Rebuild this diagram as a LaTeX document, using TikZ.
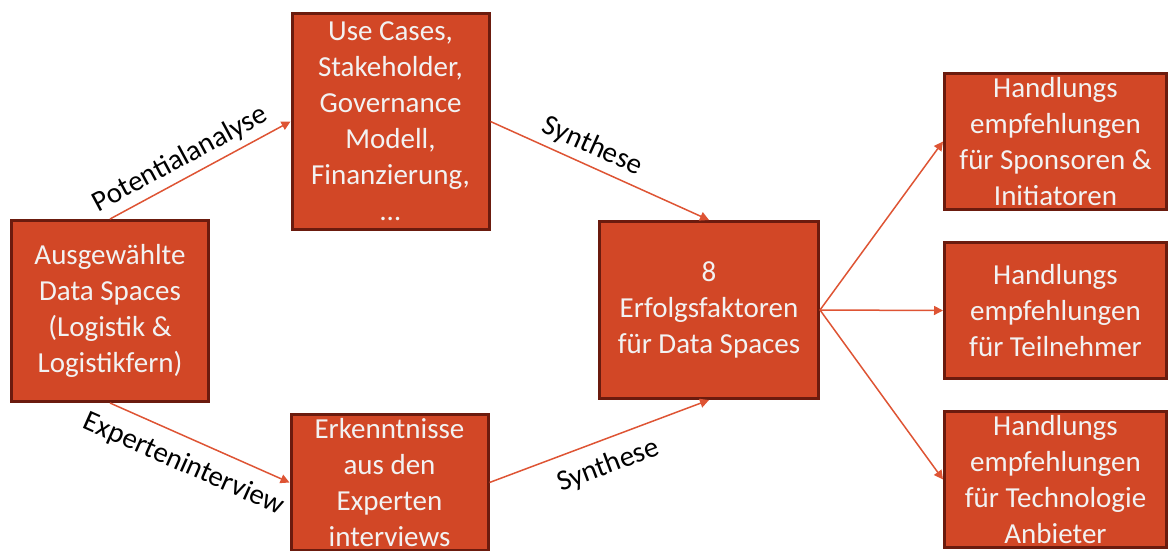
\documentclass[tikz,border=0pt]{standalone}
\usepackage{fontspec}
\setmainfont{Carlito}
\usetikzlibrary{positioning,arrows.meta}

\definecolor{boxfill}{HTML}{D24726}
\definecolor{boxline}{HTML}{6B1B0E}
\definecolor{boxtext}{HTML}{F2F2F2}
\definecolor{arrowred}{HTML}{DE5434}

\begin{document}
\begin{tikzpicture}[
    x=1pt, y=-1pt,
    every node/.style={font=\fontsize{29}{36}\selectfont},
    block/.style={rectangle, draw=boxline, line width=3pt, fill=boxfill, text=boxtext, align=center, inner sep=0pt},
    arrow/.style={draw=arrowred, line width=1.5pt, -{Triangle[length=9pt,width=9pt]}},
    edgelabel/.style={sloped, inner sep=0pt, text=black}
]
\useasboundingbox (0,0) rectangle (1170,550);
\clip (0,0) rectangle (1170,550);

% main flow
\node[block, minimum width=197pt, minimum height=181pt] (spaces) at (110,311) {Ausgewählte\\Data Spaces\\(Logistik \&\\Logistikfern)};
\node[block, minimum width=197pt, minimum height=216pt] (usecases) at (390.5,121.5) {Use Cases,\\Stakeholder,\\Governance\\Modell,\\Finanzierung,\\\dots};
\node[block, minimum width=197pt, minimum height=136pt] (insights) at (389.5,482.5) {Erkenntnisse\\aus den\\Experten\\interviews};
\node[block, minimum width=219pt, minimum height=177pt] (factors) at (709,310) {8\\Erfolgsfaktoren\\für Data Spaces};

% recommendations
\node[block, minimum width=222pt, minimum height=136pt] (sponsors) at (1055.5,141.5) {Handlungs\\empfehlungen\\für Sponsoren \&\\Initiatoren};
\node[block, minimum width=222pt, minimum height=136pt, below=30pt of sponsors] (members) {Handlungs\\empfehlungen\\für Teilnehmer};
\node[block, minimum width=222pt, minimum height=136pt, below=30pt of members] (vendors) {Handlungs\\empfehlungen\\für Technologie\\Anbieter};

\draw[arrow] (spaces.north) -- node[edgelabel, pos=.44, above=6pt] {Potentialanalyse} (usecases.west);
\draw[arrow] (spaces.south) -- node[edgelabel, pos=.47, below=13pt] {Experteninterview} (insights.west);
\draw[arrow] (usecases.east) -- node[edgelabel, pos=.43, above=6pt] {Synthese} (factors.north);
\draw[arrow] (insights.east) -- node[edgelabel, pos=.5, below=13pt] {Synthese} (factors.south);

\draw[arrow] (factors.east) -- (sponsors.west);
\draw[arrow] (factors.east) -- (members.west);
\draw[arrow] (factors.east) -- (vendors.west);
\end{tikzpicture}
\end{document}
